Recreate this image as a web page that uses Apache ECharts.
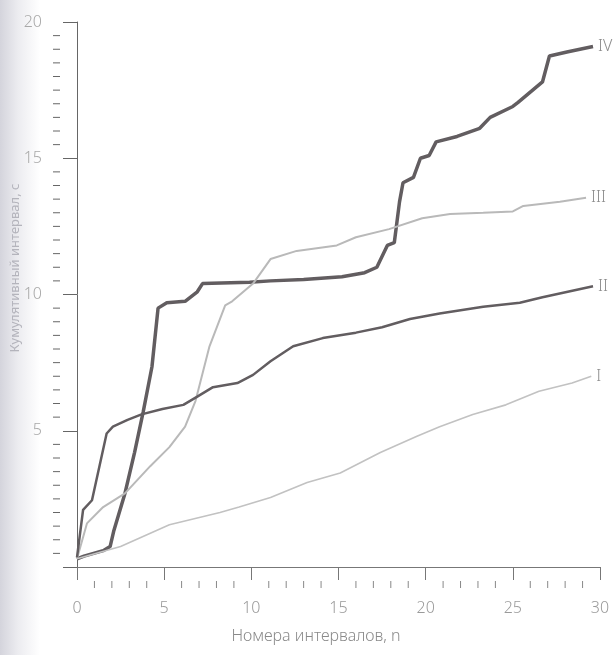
<!DOCTYPE html>
<html>
<head>
<meta charset="utf-8">
<script src="https://cdn.jsdelivr.net/npm/echarts@6/dist/echarts.min.js"></script>
<style>html,body{margin:0;padding:0;background:#fff;}#c{width:613px;height:655px;}</style>
</head>
<body>
<div id="c"></div>
<script>
const seriesNames = ['IV', 'III', 'II', 'I'];
const xTicks = [0, 5, 10, 15, 20, 25, 30];
const yTicks = [5, 10, 15, 20];
const xMinorTicks = [1,2,3,4,6,7,8,9,11,12,13,14,16,17,18,19,21,22,23,24,26,27,28,29];
const yMinorTicks = [0.5,1,1.5,2,2.5,3,3.5,4,4.5,5.5,6,6.5,7,7.5,8,8.5,9,9.5,10.5,11,11.5,12,12.5,13,13.5,14,14.5,15.5,16,16.5,17,17.5,18,18.5,19,19.5];
const xTitle = 'Номера интервалов, n';
const yTitle = 'Кумулятивный интервал, с';

const lineIV = [[0,0.3],[0.4,0.4],[1.5,0.6],[1.9,0.75],[2.1,1.3],[2.75,2.7],[3.3,4.2],[3.8,5.7],[4.3,7.35],[4.65,9.5],[5.15,9.7],[6.2,9.75],[6.9,10.1],[7.2,10.4],[9.9,10.45],[11.1,10.5],[13,10.55],[15.2,10.65],[16.5,10.8],[17.2,11.0],[17.8,11.8],[18.2,11.9],[18.5,13.4],[18.7,14.1],[19.3,14.3],[19.7,15.0],[20.2,15.1],[20.6,15.6],[21.8,15.8],[23.1,16.1],[23.7,16.5],[25.0,16.9],[25.3,17.05],[26.7,17.8],[27.1,18.75],[28.1,18.9],[29.6,19.1]];
const lineIII = [[0,0.3],[0.57,1.6],[1.5,2.2],[2.75,2.7],[4.2,3.7],[5.3,4.4],[6.2,5.15],[6.8,6.1],[7.6,8.1],[8.5,9.6],[8.9,9.75],[10.1,10.4],[11.1,11.3],[12.6,11.6],[14.9,11.8],[16,12.1],[17.9,12.4],[19.8,12.8],[21.4,12.95],[23.3,13.0],[25,13.05],[25.6,13.25],[27.7,13.4],[29.2,13.55]];
const lineII = [[0,0.35],[0.35,2.1],[0.86,2.45],[1.7,4.9],[2.06,5.15],[2.9,5.4],[3.7,5.6],[4.9,5.8],[6.1,5.95],[6.9,6.25],[7.8,6.6],[9.2,6.75],[10.1,7.05],[11.1,7.55],[12.4,8.1],[14.1,8.4],[16,8.6],[17.5,8.8],[19.1,9.1],[20.8,9.3],[23.3,9.55],[25.4,9.7],[26.7,9.9],[29.6,10.3]];
const lineI = [[0,0.3],[2.5,0.75],[5.3,1.55],[8.2,2.0],[9.3,2.2],[11.1,2.55],[13.2,3.1],[15.1,3.45],[17.4,4.2],[19.5,4.8],[20.8,5.15],[22.7,5.6],[24.6,5.95],[26.5,6.45],[28.4,6.75],[29.5,7.0]];

const FONT = '"Noto Sans", "DejaVu Sans", sans-serif';
const STRETCH = 'extra-condensed';
const X_OFFSET = 14, Y_OFFSET = 17, MINOR_LEN = 7;
const dataSets = [lineIV, lineIII, lineII, lineI];
const styles = [
  {color:'#625d60', width:3.5},
  {color:'#b9b9b9', width:2},
  {color:'#625d60', width:2.5},
  {color:'#c2c2c2', width:1.6}
];

const labelStyle = (color, size) => ({color:color, fontSize:size, fontFamily:FONT, fontStyle:STRETCH, fontWeight:300});

const minorTickSeries = (vals, isX) => ({
  type:'custom', silent:true, clip:false, z:1,
  data: vals.map(v => [v]),
  encode: isX ? {x:0} : {y:0},
  renderItem: (params, api) => {
    const v = api.value(0);
    if (isX) {
      const p = api.coord([v, 0]);
      const y0 = p[1] + X_OFFSET;
      return {type:'line', shape:{x1:p[0], y1:y0, x2:p[0], y2:y0 + MINOR_LEN}, style:{stroke:'#888', lineWidth:1}};
    }
    const p = api.coord([0, v]);
    const x0 = p[0] - Y_OFFSET;
    return {type:'line', shape:{x1:x0, y1:p[1], x2:x0 - MINOR_LEN, y2:p[1]}, style:{stroke:'#666', lineWidth:1}};
  }
});

const chart = echarts.init(document.getElementById('c'), null, {renderer:'canvas'});
chart.setOption({
  animation: false,
  backgroundColor: '#fff',
  grid: {left: 77, right: 13, top: 22, bottom: 88},
  graphic: [
    {type:'rect', left:0, top:0, shape:{width:40, height:655}, z:-10,
     style:{fill:new echarts.graphic.LinearGradient(0,0,1,0,[{offset:0,color:'#d4d4dc'},{offset:0.45,color:'#ececf0'},{offset:1,color:'#ffffff'}])}},
    {type:'text', x:15, y:268, rotation:Math.PI/2,
     style:{text:yTitle, fill:'#b4b4bc', font:STRETCH + ' 13px ' + FONT, align:'center', verticalAlign:'middle'}},
    {type:'text', x:316, y:636,
     style:{text:xTitle, fill:'#8a8a8a', font:STRETCH + ' 300 16px ' + FONT, align:'center', verticalAlign:'middle'}}
  ],
  xAxis: {
    type:'value', min:0, max:30, interval:5, offset:X_OFFSET, position:'bottom',
    axisLine:{show:true, lineStyle:{color:'#777', width:1}},
    axisTick:{show:true, length:13, lineStyle:{color:'#777'}},
    splitLine:{show:false},
    axisLabel:Object.assign({margin:19, formatter:v => xTicks.includes(v) ? String(v) : ''}, labelStyle('#9a9a9a', 16))
  },
  yAxis: {
    type:'value', min:0, max:20, interval:5, offset:Y_OFFSET, position:'left',
    axisLine:{show:true, lineStyle:{color:'#666', width:1}},
    axisTick:{show:true, length:14, lineStyle:{color:'#666'}},
    splitLine:{show:false},
    axisLabel:Object.assign({margin:18, formatter:v => yTicks.includes(v) ? String(v) : ''}, labelStyle('#a8a8a8', 16))
  },
  series: dataSets.map((d,i) => ({
    name: seriesNames[i], type:'line', data:d, symbol:'none', smooth:false,
    lineStyle:{color:styles[i].color, width:styles[i].width},
    itemStyle:{color:styles[i].color},
    endLabel:Object.assign({show:true, formatter:'{a}', distance:5}, labelStyle('#8c8c8c', 16))
  })).concat([minorTickSeries(xMinorTicks, true), minorTickSeries(yMinorTicks, false)])
});
</script>
</body>
</html>
